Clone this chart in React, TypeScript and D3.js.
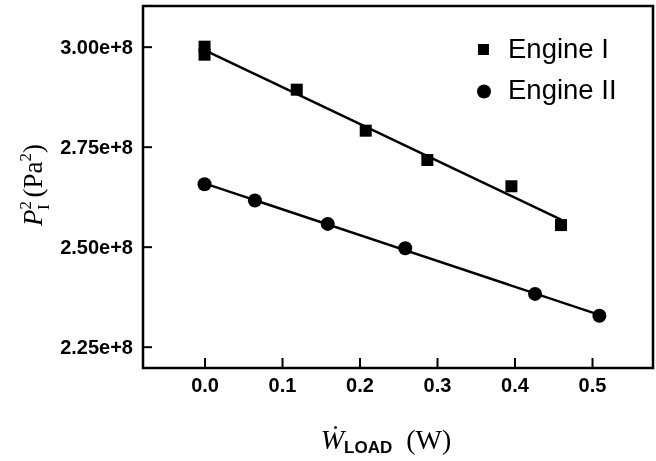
import React, { useEffect, useRef } from 'react';
import * as d3 from 'd3';

// Engine I (squares) and Engine II (circles)
const loadI = [0, 0, 0.119, 0.208, 0.2875, 0.396, 0.46];
const pressI = [3.0e8, 2.98e8, 2.8925e8, 2.79e8, 2.7167e8, 2.651e8, 2.554e8];
const loadII = [0, 0.065, 0.159, 0.259, 0.4265, 0.5095];
const pressII = [2.656e8, 2.6155e8, 2.557e8, 2.496e8, 2.382e8, 2.3275e8];

const xTicks = [0, 0.1, 0.2, 0.3, 0.4, 0.5];
const yTicks = [2.25e8, 2.5e8, 2.75e8, 3.0e8];
const seriesNames = ['Engine I', 'Engine II'];

const width = 656;
const height = 461;

function fit(xs: number[], ys: number[]) {
  const mx = d3.mean(xs) as number;
  const my = d3.mean(ys) as number;
  let sxy = 0;
  let sxx = 0;
  xs.forEach((x, i) => {
    sxy += (x - mx) * (ys[i] - my);
    sxx += (x - mx) * (x - mx);
  });
  const slope = sxy / sxx;
  return { slope, intercept: my - slope * mx };
}

export default function App() {
  const ref = useRef<SVGSVGElement>(null);

  useEffect(() => {
    const svg = d3.select(ref.current);
    svg.selectAll('*').remove();

    const left = 143;
    const right = 653;
    const top = 6;
    const bottom = 368;

    const x = d3.scaleLinear().domain([-0.0794, 0.5787]).range([left, right]);
    const y = d3.scaleLinear().domain([2.1967e8, 3.1017e8]).range([bottom, top]);

    // y axis, ticks pointing inward
    const yAxis = svg
      .append('g')
      .attr('transform', `translate(${left},0)`)
      .call(
        d3
          .axisLeft(y)
          .tickValues(yTicks)
          .tickSize(-9)
          .tickPadding(10)
          .tickFormat((d) => `${(+d / 1e8).toFixed(2)}e+8`)
      );
    yAxis.select('.domain').remove();
    yAxis.selectAll('line').attr('stroke', '#000').attr('stroke-width', 2);
    yAxis
      .selectAll('text')
      .attr('font-family', 'Liberation Sans, Arial, sans-serif')
      .attr('font-weight', 'bold')
      .attr('font-size', 20)
      .attr('fill', '#000');

    const xAxis = svg
      .append('g')
      .attr('transform', `translate(0,${bottom})`)
      .call(
        d3
          .axisBottom(x)
          .tickValues(xTicks)
          .tickSize(-10)
          .tickPadding(10)
          .tickFormat((d) => d3.format('.1f')(+d))
      );
    xAxis.select('.domain').remove();
    xAxis.selectAll('line').attr('stroke', '#000').attr('stroke-width', 2);
    xAxis
      .selectAll('text')
      .attr('font-family', 'Liberation Sans, Arial, sans-serif')
      .attr('font-weight', 'bold')
      .attr('font-size', 20)
      .attr('fill', '#000');

    // frame
    svg
      .append('rect')
      .attr('x', left)
      .attr('y', top)
      .attr('width', right - left)
      .attr('height', bottom - top)
      .attr('fill', 'none')
      .attr('stroke', '#000')
      .attr('stroke-width', 2.5);

    // fitted lines
    const series = [
      { xs: loadI, ys: pressI },
      { xs: loadII, ys: pressII },
    ];
    series.forEach((s) => {
      const f = fit(s.xs, s.ys);
      const x0 = d3.min(s.xs) as number;
      const x1 = d3.max(s.xs) as number;
      svg
        .append('line')
        .attr('x1', x(x0))
        .attr('y1', y(f.intercept + f.slope * x0))
        .attr('x2', x(x1))
        .attr('y2', y(f.intercept + f.slope * x1))
        .attr('stroke', '#000')
        .attr('stroke-width', 2.5);
    });

    const sq = 12;
    svg
      .append('g')
      .selectAll('rect')
      .data(loadI)
      .join('rect')
      .attr('x', (d) => x(d) - sq / 2)
      .attr('y', (d, i) => y(pressI[i]) - sq / 2)
      .attr('width', sq)
      .attr('height', sq)
      .attr('fill', '#000');

    svg
      .append('g')
      .selectAll('circle')
      .data(loadII)
      .join('circle')
      .attr('cx', (d) => x(d))
      .attr('cy', (d, i) => y(pressII[i]))
      .attr('r', 7)
      .attr('fill', '#000');

    // legend
    const legend = svg.append('g').attr('font-family', 'Liberation Sans, Arial, sans-serif');
    legend
      .append('rect')
      .attr('x', 478)
      .attr('y', 44)
      .attr('width', 11)
      .attr('height', 11)
      .attr('fill', '#000');
    legend.append('circle').attr('cx', 484).attr('cy', 91.5).attr('r', 7).attr('fill', '#000');
    seriesNames.forEach((name, i) => {
      legend
        .append('text')
        .attr('x', 508)
        .attr('y', 58 + i * 41)
        .attr('font-size', 27.5)
        .attr('fill', '#000')
        .text(name);
    });

    // y axis title
    const yt = svg
      .append('text')
      .attr('transform', 'translate(42,185) rotate(-90)')
      .attr('text-anchor', 'middle')
      .attr('font-family', 'Liberation Serif, Times New Roman, serif')
      .attr('font-size', 27)
      .attr('fill', '#000');
    yt.append('tspan').attr('font-style', 'italic').text('P');
    yt.append('tspan').attr('font-size', 17).attr('dy', -11).text('2');
    yt.append('tspan').attr('font-size', 17).attr('dx', -9).attr('dy', 18).text('I');
    yt.append('tspan').attr('dy', -7).text(' (Pa');
    yt.append('tspan').attr('font-size', 17).attr('dy', -11).text('2');
    yt.append('tspan').attr('dy', 11).text(')');

    // x axis title
    const xt = svg
      .append('text')
      .attr('x', 386)
      .attr('y', 449)
      .attr('text-anchor', 'middle')
      .attr('font-family', 'Liberation Serif, Times New Roman, serif')
      .attr('font-size', 28)
      .attr('fill', '#000');
    xt.append('tspan').attr('font-style', 'italic').text('\u1E86');
    xt.append('tspan')
      .attr('font-family', 'Liberation Sans, Arial, sans-serif')
      .attr('font-weight', 'bold')
      .attr('font-size', 17)
      .attr('dy', 4)
      .text('LOAD');
    xt.append('tspan').attr('dy', -4).text('\u2002(W)');
  }, []);

  return (
    <svg
      ref={ref}
      width={width}
      height={height}
      style={{ position: 'absolute', left: 0, top: 0, background: '#fff', willChange: 'transform' }}
    />
  );
}
